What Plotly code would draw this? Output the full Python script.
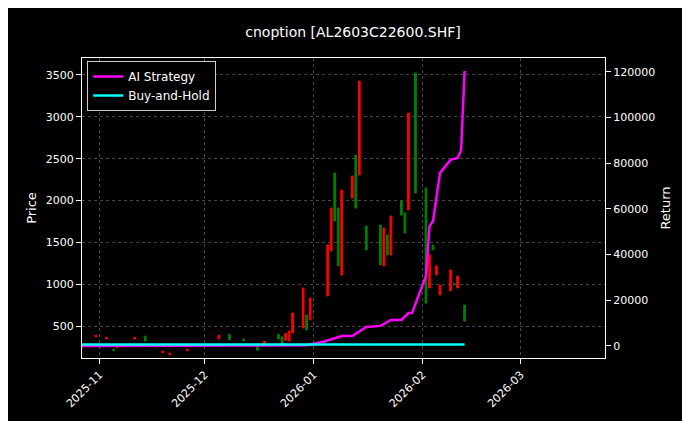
import plotly.graph_objects as go

c_dates = ["2025-10-27","2025-10-31","2025-11-03","2025-11-05","2025-11-06","2025-11-11","2025-11-14",
           "2025-11-17","2025-11-19","2025-11-21","2025-11-26","2025-12-05","2025-12-08","2025-12-12",
           "2025-12-16","2025-12-18","2025-12-22","2025-12-23","2025-12-24","2025-12-25","2025-12-26",
           "2025-12-29","2025-12-30","2025-12-31","2026-01-05","2026-01-06","2026-01-07","2026-01-08",
           "2026-01-09","2026-01-12","2026-01-13","2026-01-14","2026-01-16","2026-01-20","2026-01-21",
           "2026-01-22","2026-01-23","2026-01-26","2026-01-27","2026-01-28","2026-01-30","2026-02-02",
           "2026-02-03","2026-02-04","2026-02-05","2026-02-06","2026-02-09","2026-02-10","2026-02-11",
           "2026-02-13"]
c_low = [240,370,345,205,240,345,320,250,180,155,205,345,335,325,210,280,345,290,330,320,418,
         477,453,572,859,1397,1755,1217,1110,2030,1910,2305,1409,1230,1218,1349,1349,1827,1612,
         1887,2090,775,955,1409,1110,871,919,990,955,560]
c_high = [260,390,365,225,260,365,380,270,200,175,225,390,400,345,260,320,400,370,410,440,656,
          955,632,835,1468,1910,2329,1910,2126,2293,2544,3428,1695,1707,1672,1588,1815,1994,1851,
          3046,3524,2150,1349,1468,1218,990,1170,1010,1098,751]
c_col = ["r","r","r","g","r","r","g","g","r","r","r","r","g","g","g","r","g","g","r","r","r",
         "r","g","r","r","r","g","g","r","r","g","r","g","g","r","g","r","g","g","r","g","g",
         "r","g","r","r","r","g","r","g"]

opens = [lo if c == "r" else hi for lo, hi, c in zip(c_low, c_high, c_col)]
closes = [hi if c == "r" else lo for lo, hi, c in zip(c_low, c_high, c_col)]

ai_dates = ["2025-10-27","2025-12-30","2026-01-04","2026-01-09","2026-01-12","2026-01-16","2026-01-20",
            "2026-01-23","2026-01-26","2026-01-28","2026-01-29","2026-02-02","2026-02-03","2026-02-04",
            "2026-02-06","2026-02-09","2026-02-11","2026-02-12","2026-02-13"]
ai_ret = [0,300,2000,4400,4400,8300,8800,11400,11400,14400,14400,30700,52500,54700,75800,81500,
          82300,85600,120400]
bh_dates = ["2025-10-27","2026-02-13"]
bh_ret = [600,600]

fig = go.Figure()
fig.add_trace(go.Candlestick(x=c_dates, open=opens, high=c_high, low=c_low, close=closes,
                             increasing=dict(line=dict(color="#ff0000", width=1), fillcolor="#ff0000"),
                             decreasing=dict(line=dict(color="#008000", width=1), fillcolor="#008000"),
                             whiskerwidth=0, showlegend=False, yaxis="y"))
fig.add_trace(go.Scatter(x=ai_dates, y=ai_ret, mode="lines", name="AI Strategy",
                         line=dict(color="#ff00ff", width=2.5), yaxis="y2"))
fig.add_trace(go.Scatter(x=bh_dates, y=bh_ret, mode="lines", name="Buy-and-Hold",
                         line=dict(color="#00ffff", width=2.5), yaxis="y2"))

grid = "rgba(160,160,160,0.45)"
fig.update_layout(
    width=690, height=421, paper_bgcolor="black", plot_bgcolor="black",
    font=dict(family="DejaVu Sans", color="white", size=11),
    margin=dict(l=74, r=93, t=50, b=71),
    title=dict(text="cnoption [AL2603C22600.SHF]", x=0.5, xanchor="center", y=0.955, font=dict(size=14)),
    xaxis=dict(type="date", range=["2025-10-27", "2026-03-25"], dtick="M1", tick0="2025-11-01",
               tickformat="%Y-%m", tickangle=-45, showgrid=True, gridcolor=grid, griddash="dot",
               showline=True, linecolor="white", mirror=True, ticks="outside", tickcolor="white",
               automargin=False, rangeslider=dict(visible=False)),
    yaxis=dict(title=dict(text="Price", standoff=6), range=[118, 3703], tickvals=[500,1000,1500,2000,2500,3000,3500],
               showgrid=True, gridcolor=grid, griddash="dot", showline=True, linecolor="white",
               ticks="outside", tickcolor="white", zeroline=False, automargin=False),
    yaxis2=dict(title=dict(text="Return", standoff=6), overlaying="y", side="right", range=[-5260, 126100],
                tickvals=[0,20000,40000,60000,80000,100000,120000], tickformat="d",
                showgrid=False, showline=True, linecolor="white", ticks="outside", tickcolor="white",
                zeroline=False, automargin=False),
    legend=dict(x=0.01, y=0.99, xanchor="left", yanchor="top", bgcolor="black",
                bordercolor="#cccccc", borderwidth=1, font=dict(size=12)),
)
fig.write_html("out.html")
